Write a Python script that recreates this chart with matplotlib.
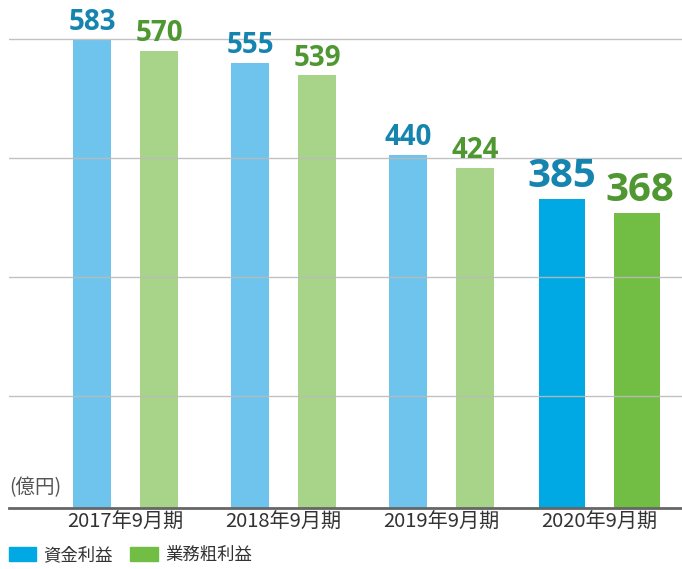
import matplotlib
matplotlib.use('Agg')
import matplotlib.pyplot as plt
from matplotlib.patches import Patch

plt.rcParams['font.family'] = ['Noto Sans CJK JP', 'DejaVu Sans']

periods = ['2017年9月期', '2018年9月期', '2019年9月期', '2020年9月期']
shikin = [583, 555, 440, 385]      # 資金利益
gyomu = [570, 539, 424, 368]       # 業務粗利益
grid_vals = [140, 288, 436, 584]

blue_light = '#6EC4EC'
green_light = '#A8D489'
blue_dark = '#00A9E3'
green_dark = '#72BE44'
blue_text = '#1585B0'
green_text = '#4E9731'

fig = plt.figure(figsize=(6.82, 5.69), dpi=100)
ax = fig.add_axes([9 / 682, 61 / 569, 673 / 682, 508 / 569])

for v in grid_vals:
    ax.axhline(v, color='#BBBBBB', lw=1, zorder=3, alpha=0.9)

for i in range(len(periods)):
    last = i == len(periods) - 1
    off = 0.237 if last else 0.212
    w = 0.291 if last else 0.24
    cb = blue_dark if last else blue_light
    cg = green_dark if last else green_light
    ax.bar(i - off, shikin[i], width=w, color=cb, zorder=2)
    ax.bar(i + off, gyomu[i], width=w, color=cg, zorder=2)
    fs = 29 if last else 20
    gap = 15 if last else 12
    ax.text(i - off, shikin[i] + gap, str(shikin[i]), ha='center', va='baseline',
            fontsize=fs, fontweight='bold', color=blue_text, family='Open Sans')
    ax.text(i + off + (0.02 if last else 0), gyomu[i] + gap, str(gyomu[i]), ha='center', va='baseline',
            fontsize=fs, fontweight='bold', color=green_text, family='Open Sans')

ax.set_xlim(-0.737, 3.522)
ax.set_ylim(0, 633)
ax.set_xticks(range(len(periods)))
ax.set_xticklabels(periods, fontsize=14.5, color='#333333')
ax.tick_params(axis='x', length=0, pad=3)
ax.set_yticks([])
for s in ['top', 'right', 'left']:
    ax.spines[s].set_visible(False)
ax.spines['bottom'].set_color('#666666')
ax.spines['bottom'].set_linewidth(2)

ax.text(0, 12, '(億円)', transform=ax.get_yaxis_transform(), ha='left', va='bottom',
        fontsize=14, color='#555555')

handles = [Patch(color=blue_dark, label='資金利益'), Patch(color=green_dark, label='業務粗利益')]
fig.legend(handles=handles, loc='lower left', bbox_to_anchor=(6 / 682, 0.004), ncol=2,
           frameon=False, fontsize=12.5, handlelength=1.6, handleheight=0.85,
           handletextpad=0.4, columnspacing=1.0, borderpad=0.05, borderaxespad=0.1,
           labelcolor='#333333')

fig.savefig('out.png', dpi=100)
